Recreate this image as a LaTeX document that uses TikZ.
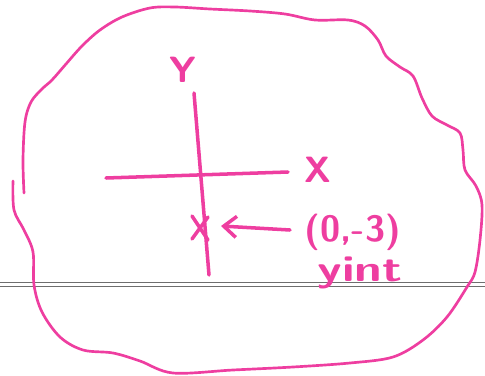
\documentclass[tikz,border=0pt]{standalone}
\usepackage{tikz}
\usetikzlibrary{positioning, calc, arrows.meta}
\definecolor{markerpink}{RGB}{238,62,160}
\definecolor{edgegray}{RGB}{110,110,110}

\begin{document}
\begin{tikzpicture}[x=0.025cm, y=-0.025cm,
  pen/.style={draw=markerpink, line width=2.5pt, line cap=round, line join=round},
  hand/.style={text=markerpink, font=\sffamily\bfseries\fontsize{26}{30}\selectfont, inner sep=0pt}]
\useasboundingbox (0,0) rectangle (485,375);

% edge of the sheet
\draw[edgegray, line width=0.7pt] (0,282.5) -- (485,282.5);
\draw[edgegray, line width=0.7pt] (0,286) -- (485,286);

% the blob
\draw[pen, line width=1.9pt] plot[smooth, tension=0.55] coordinates {
  (24,193) (23,160) (25,122) (31,102) (42,89) (52,80) (66,64) (82,46)
  (100,30) (122,17) (150,8) (175,7) (210,9) (250,11) (285,14) (315,20)
  (348,20) (365,26) (378,40) (386,56) (400,67) (413,76) (422,98)
  (432,116) (447,125) (460,133) (463,150) (465,170) (476,186) (482,205)
  (480,240) (475,272) (467,287) (447,317) (423,340) (393,357) (350,363)
  (293,367) (233,370) (173,373) (140,361) (113,353) (83,350) (60,337)
  (42,312) (34,285) (33,252) (24,230) (14,210) (13,181)};

% axes
\coordinate (ytop) at (194,93);
\coordinate (ybot) at (209,275);
\coordinate (xleft) at (106,178);
\coordinate (xright) at (288,172);
\draw[pen] (ytop) -- (ybot);
\draw[pen] (xleft) -- (xright);
\node[hand] (ylab) at (183,70) {Y};
\node[hand] (xlab) at (318,170) {X};

% intercept
\coordinate (yint) at (200,228);
\draw[pen] ($(yint)+(-8,-12)$) -- ($(yint)+(8,12)$);
\draw[pen] ($(yint)+(-8,11)$) -- ($(yint)+(8,-11)$);
\node[hand] (pt) at (353,232) {(0,-3)};
\node[hand, xscale=1.35] (yname) at (360,273) {yint};
\coordinate (tail) at (290,230);
\draw[pen, -{Straight Barb[length=9pt, width=15pt]}] (tail) -- ($(yint)+(21,-2)$);
\end{tikzpicture}
\end{document}
